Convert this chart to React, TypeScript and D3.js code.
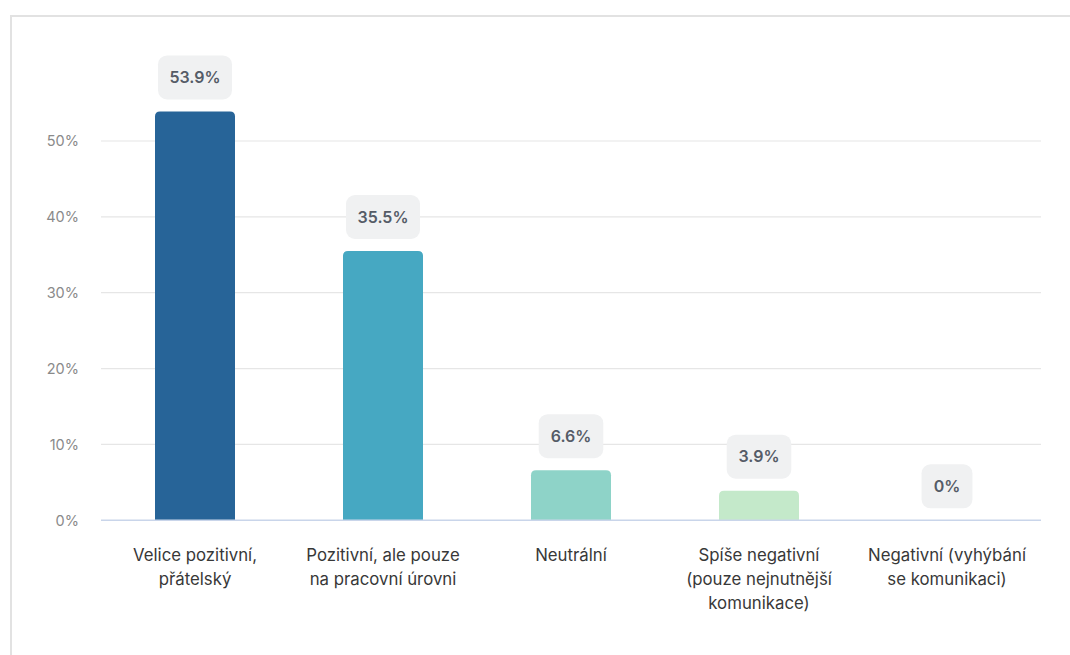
import React from "react";
import * as d3 from "d3";

const categories: string[][] = [
  ["Velice pozitivní,", "přátelský"],
  ["Pozitivní, ale pouze", "na pracovní úrovni"],
  ["Neutrální"],
  ["Spíše negativní", "(pouze nejnutnější", "komunikace)"],
  ["Negativní (vyhýbání", "se komunikaci)"],
];
const values: number[] = [53.9, 35.5, 6.6, 3.9, 0];
const valueLabels: string[] = ["53.9%", "35.5%", "6.6%", "3.9%", "0%"];
const barColors: string[] = ["#276498", "#46a8c2", "#8ed3c8", "#c4e9ca"];
const yTicks: number[] = [0, 10, 20, 30, 40, 50];

const W = 1070;
const H = 655;
const left = 101;
const right = 1041;
const y0 = 520.3;
const y50 = 141;

export default function App() {
  const idx = values.map((_, i) => String(i));
  const x = d3.scaleBand<string>().domain(idx).range([left, right]).paddingInner(0).paddingOuter(0);
  const y = d3.scaleLinear().domain([0, 50]).range([y0, y50]);
  const bw = 80;
  const font = "Inter, 'Noto Sans', sans-serif";

  const textW = (s: string) => {
    let w = 0;
    for (const ch of s) {
      if (ch === ".") w += 4.3;
      else if (ch === "%") w += 13.5;
      else w += 9.4;
    }
    return w;
  };

  return (
    <div style={{ position: "absolute", left: 0, top: 0, width: W, height: H, background: "#fff" }}>
      <svg width={W} height={H} style={{ display: "block", fontFamily: font }}>
        <rect x={11} y={16} width={W} height={H} fill="none" stroke="#e2e2e2" strokeWidth={2} />
        {yTicks.map((t) => (
          <g key={t}>
            {t !== 0 && (
              <line x1={left} x2={right} y1={y(t)} y2={y(t)} stroke="#e6e6e6" strokeWidth={1.2} />
            )}
            <text x={79} y={y(t)} dy="0.36em" textAnchor="end" fontSize={14.5} fill="#8a8a8a">
              {`${t}%`}
            </text>
          </g>
        ))}
        {values.map((v, i) => {
          const cx = (x(String(i)) as number) + x.bandwidth() / 2;
          const top = y(v);
          const h = y0 - top;
          const r = Math.min(5, h);
          const x0 = cx - bw / 2;
          const path =
            h > 0
              ? `M${x0},${y0} L${x0},${top + r} Q${x0},${top} ${x0 + r},${top} L${x0 + bw - r},${top} Q${x0 + bw},${top} ${x0 + bw},${top + r} L${x0 + bw},${y0} Z`
              : "";
          const lw = textW(valueLabels[i]) + 28;
          const bh = 44;
          const by = top - 12 - bh;
          return (
            <g key={i}>
              {h > 0 && <path d={path} fill={barColors[i % barColors.length]} />}
              <rect x={cx - lw / 2} y={by} width={lw} height={bh} rx={9} fill="#f0f1f2" />
              <text x={cx} y={by + bh / 2} dy="0.36em" textAnchor="middle" fontSize={16} fontWeight={600} fill="#555c67">
                {valueLabels[i]}
              </text>
              {categories[i].map((ln, j) => (
                <text key={j} x={cx} y={555 + j * 24} dy="0.36em" textAnchor="middle" fontSize={16.8} fill="#383838">
                  {ln}
                </text>
              ))}
            </g>
          );
        })}
        <line x1={left} x2={right} y1={y0} y2={y0} stroke="#c9d5ea" strokeWidth={1.5} />
      </svg>
    </div>
  );
}
